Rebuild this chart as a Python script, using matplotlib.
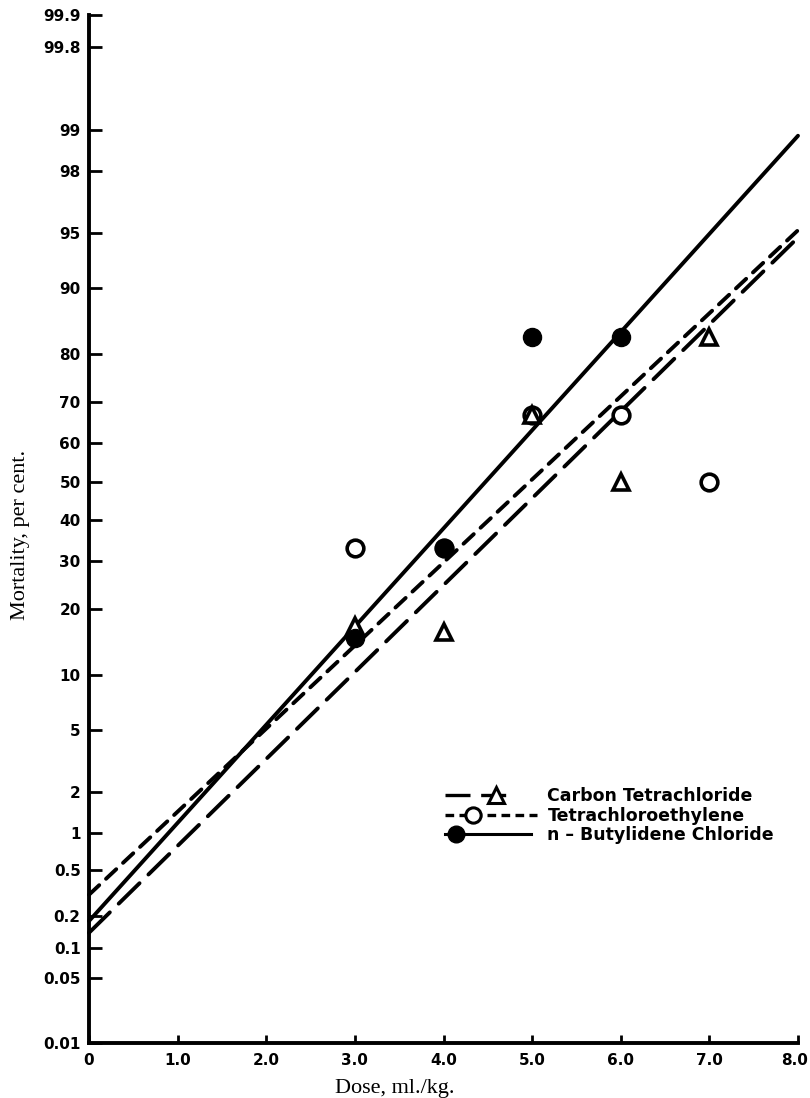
import math
import numpy as np
import matplotlib
matplotlib.use("Agg")
import matplotlib.pyplot as plt
from matplotlib.lines import Line2D
from matplotlib.legend_handler import HandlerLine2D
import matplotlib.transforms as mtransforms

# ---------------- data ----------------
doses = [3.0, 4.0, 5.0, 6.0, 7.0]
carbon_tet_pct = [17, 16, 67, 50, 83]
tetrachloro_pct = [33, 33, 67, 67, 50]
butylidene_doses = [3.0, 4.0, 5.0, 6.0]
butylidene_pct = [15, 33, 83, 83]

fit_doses = [0.0, 8.0]
carbon_tet_fit = [0.14, 94.7]
tetrachloro_fit = [0.31, 95.2]
butylidene_fit = [0.18, 98.9]

x_ticks = [0, 1, 2, 3, 4, 5, 6, 7, 8]
x_tick_labels = ["0", "1.0", "2.0", "3.0", "4.0", "5.0", "6.0", "7.0", "8.0"]
y_ticks = [0.01, 0.05, 0.1, 0.2, 0.5, 1, 2, 5, 10, 20, 30, 40, 50, 60, 70,
           80, 90, 95, 98, 99, 99.8, 99.9]
y_tick_labels = ["0.01", "0.05", "0.1", "0.2", "0.5", "1", "2", "5", "10",
                 "20", "30", "40", "50", "60", "70", "80", "90", "95", "98",
                 "99", "99.8", "99.9"]
legend_labels = ["Carbon Tetrachloride", "Tetrachloroethylene",
                 "n \u2013 Butylidene Chloride"]

# ---------------- probit scale ----------------
_a = [-3.969683028665376e+01, 2.209460984245205e+02, -2.759285104469687e+02,
      1.383577518672690e+02, -3.066479806614716e+01, 2.506628277459239e+00]
_b = [-5.447609879822406e+01, 1.615858368580409e+02, -1.556989798598866e+02,
      6.680131188771972e+01, -1.328068155288572e+01]
_c = [-7.784894002430293e-03, -3.223964580411365e-01, -2.400758277161838e+00,
      -2.549732539343734e+00, 4.374664141464968e+00, 2.938163982698783e+00]
_d = [7.784695709041462e-03, 3.224671290700398e-01, 2.445134137142996e+00,
      3.754408661907416e+00]


def _ppf(p):
    p = np.clip(np.asarray(p, dtype=float), 1e-12, 1 - 1e-12)
    plow = 0.02425
    out = np.empty_like(p)
    lo = p < plow
    hi = p > 1 - plow
    mid = ~(lo | hi)
    q = np.sqrt(-2 * np.log(p[lo]))
    out[lo] = (((((_c[0]*q+_c[1])*q+_c[2])*q+_c[3])*q+_c[4])*q+_c[5]) / \
        ((((_d[0]*q+_d[1])*q+_d[2])*q+_d[3])*q+1)
    q = np.sqrt(-2 * np.log(1 - p[hi]))
    out[hi] = -(((((_c[0]*q+_c[1])*q+_c[2])*q+_c[3])*q+_c[4])*q+_c[5]) / \
        ((((_d[0]*q+_d[1])*q+_d[2])*q+_d[3])*q+1)
    q = p[mid] - 0.5
    r = q * q
    out[mid] = (((((_a[0]*r+_a[1])*r+_a[2])*r+_a[3])*r+_a[4])*r+_a[5])*q / \
        (((((_b[0]*r+_b[1])*r+_b[2])*r+_b[3])*r+_b[4])*r+1)
    return out


_erf = np.vectorize(math.erf)


def fwd(y):
    return _ppf(np.asarray(y, dtype=float) / 100.0)


def inv(z):
    z = np.asarray(z, dtype=float)
    return 100.0 * 0.5 * (1 + _erf(z / math.sqrt(2)))


class HandlerMarkerAt(HandlerLine2D):
    """Legend handle: line of given relative length, marker at given fraction."""

    def __init__(self, frac, length=1.0, **kw):
        super().__init__(**kw)
        self.frac = frac
        self.length = length

    def create_artists(self, legend, orig_handle, xdescent, ydescent,
                       width, height, fontsize, trans):
        x0 = -xdescent
        y = (height - ydescent) / 2
        line = Line2D([x0, x0 + width * self.length], [y, y])
        self.update_prop(line, orig_handle, legend)
        line.set_marker("None")
        mk = Line2D([x0 + width * self.frac], [y])
        self.update_prop(mk, orig_handle, legend)
        mk.set_linestyle("None")
        line.set_transform(trans)
        mk.set_transform(trans)
        return [line, mk]


# ---------------- figure ----------------
W, H = 810, 1098
fig = plt.figure(figsize=(W / 100, H / 100), dpi=100)
L, R, T, B = 89, 798, 15, 1043
ax = fig.add_axes([L / W, (H - B) / H, (R - L) / W, (B - T) / H])
ax.set_yscale("function", functions=(fwd, inv))
ax.set_xlim(0, 8)
ax.set_ylim(0.01, 99.9)

lw = 2.8
long_dash = (0, (7.5, 3.2))
short_dash = (0, (3.6, 2.4))

ax.plot(fit_doses, carbon_tet_fit, color="black", lw=lw, linestyle=long_dash,
        dash_capstyle="round", clip_on=False, zorder=3)
ax.plot(fit_doses, tetrachloro_fit, color="black", lw=lw, linestyle=short_dash,
        dash_capstyle="round", clip_on=False, zorder=3)
ax.plot(fit_doses, butylidene_fit, color="black", lw=lw, linestyle="-",
        solid_capstyle="round", clip_on=False, zorder=3)

ax.plot(doses, tetrachloro_pct, linestyle="none", marker="o", markersize=12,
        markerfacecolor="white", markeredgecolor="black", markeredgewidth=2.6,
        zorder=4)
ax.plot(doses, carbon_tet_pct, linestyle="none", marker="^", markersize=12,
        markerfacecolor="white", markeredgecolor="black", markeredgewidth=2.6,
        zorder=5)
ax.plot(butylidene_doses, butylidene_pct, linestyle="none", marker="o",
        markersize=13, color="black", zorder=6)

# axes styling
for s in ("top", "right"):
    ax.spines[s].set_visible(False)
for s in ("left", "bottom"):
    ax.spines[s].set_linewidth(2.8)
ax.set_xticks(x_ticks)
ax.set_xticklabels(x_tick_labels)
ax.set_yticks(y_ticks)
ax.set_yticklabels(y_tick_labels)
ax.yaxis.set_minor_locator(matplotlib.ticker.NullLocator())
ax.tick_params(axis="y", direction="in", length=9, width=2.0, pad=6)
ax.tick_params(axis="x", direction="in", length=6, width=2.0, pad=7)
for lab in ax.get_xticklabels() + ax.get_yticklabels():
    lab.set_fontfamily("DejaVu Sans")
    lab.set_fontweight("bold")
    lab.set_fontsize(11)
# keep the last x label inside the canvas
last = ax.get_xticklabels()[-1]
last.set_transform(last.get_transform() +
                   mtransforms.ScaledTranslation(-3 / 100, 0, fig.dpi_scale_trans))

fig.text(21 / W, 1 - 535 / H, "Mortality, per cent.", rotation=90,
         ha="center", va="center", family="Liberation Serif", fontsize=16)
fig.text(395 / W, 1 - 1088 / H, "Dose, ml./kg.", ha="center", va="center",
         family="Liberation Serif", fontsize=16)

# legend
h_ct = Line2D([], [], color="black", lw=2.4, linestyle=long_dash, marker="^",
              markersize=11, markerfacecolor="white", markeredgecolor="black",
              markeredgewidth=2.2)
h_te = Line2D([], [], color="black", lw=2.4, linestyle=(0, (2.6, 1.6)),
              marker="o", markersize=11, markerfacecolor="white",
              markeredgecolor="black", markeredgewidth=2.2)
h_bu = Line2D([], [], color="black", lw=2.2, linestyle="-", marker="o",
              markersize=12, markerfacecolor="black")
leg = ax.legend(
    [h_ct, h_te, h_bu], legend_labels,
    handler_map={h_ct: HandlerMarkerAt(0.55, 0.70),
                 h_te: HandlerMarkerAt(0.30, 1.0),
                 h_bu: HandlerMarkerAt(0.12, 0.93)},
    loc="upper left", bbox_to_anchor=(445 / W, 1 - 787 / H),
    bbox_transform=fig.transFigure, frameon=False, handlelength=5.3,
    handletextpad=0.6, labelspacing=0.1, borderpad=0, borderaxespad=0,
    prop=dict(family="DejaVu Sans", weight="bold", size=12.5))

fig.savefig("out.png", dpi=100)
